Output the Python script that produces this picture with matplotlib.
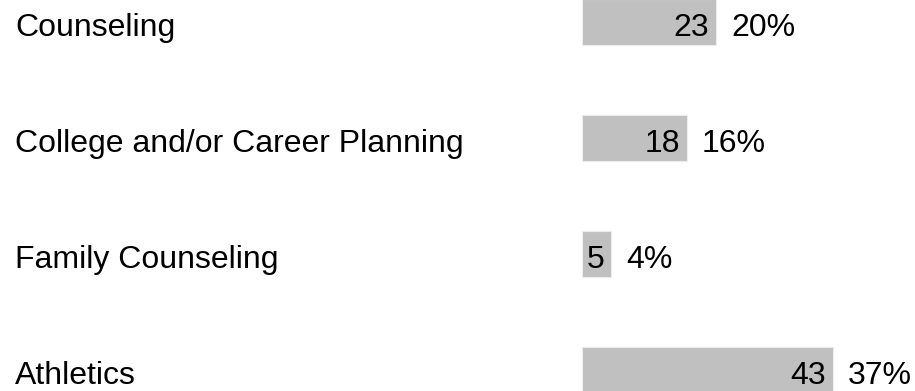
import matplotlib.pyplot as plt
import matplotlib.transforms as mtransforms

categories = [
    "Counseling",
    "College and/or Career Planning",
    "Family Counseling",
    "Athletics",
]
counts = [23, 18, 5, 43]
percent_labels = ["20%", "16%", "4%", "37%"]

plt.rcParams["font.family"] = ["Liberation Sans", "DejaVu Sans"]

fig = plt.figure(figsize=(9.15, 3.91), dpi=100)
ax = fig.add_axes([0, 0, 1, 1])

px_per_unit = 5.83
ax.set_xlim(-582 / px_per_unit, (915 - 582) / px_per_unit)
ax.set_ylim((391 - 22) / 116, -22 / 116)

ypos = list(range(len(categories)))
ax.barh(ypos, counts, height=0.405, color="#c0c0c0", edgecolor="#ececec", linewidth=0.8)

fs = 23
label_tr = mtransforms.blended_transform_factory(fig.transFigure, ax.transData)
label_tr = mtransforms.offset_copy(label_tr, fig=fig, x=0, y=-2, units="dots")
num_off = mtransforms.offset_copy(ax.transData, fig=fig, x=-7, y=-2, units="dots")
pct_off = mtransforms.offset_copy(ax.transData, fig=fig, x=15, y=-2, units="dots")

for y, cat, n, pct in zip(ypos, categories, counts, percent_labels):
    ax.text(15 / 915, y, cat, transform=label_tr, ha="left", va="center_baseline", fontsize=fs)
    ax.text(n, y, str(n), transform=num_off, ha="right", va="center_baseline", fontsize=fs)
    ax.text(n, y, pct, transform=pct_off, ha="left", va="center_baseline", fontsize=fs)

ax.axis("off")
fig.savefig("out.png", dpi=100)
